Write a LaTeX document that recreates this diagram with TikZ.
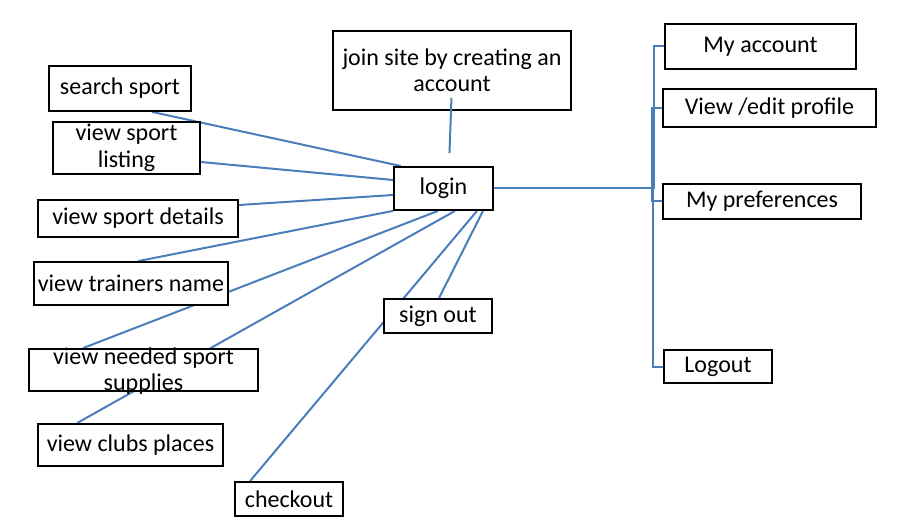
\documentclass[tikz,border=0pt]{standalone}
\usepackage{fontspec}
\setmainfont{Carlito}
\usetikzlibrary{backgrounds}
\definecolor{linkblue}{HTML}{4A7EBB}
\newcommand{\squeezed}[1]{\smash{\raisebox{-8.5pt}{\begin{tabular}{@{}c@{}}#1\end{tabular}}}}

\begin{document}
\begin{tikzpicture}[x=1pt,y=-1pt,box/.style={draw,line width=1.8pt,fill=white,align=center,inner sep=0pt},link/.style={draw=linkblue,line width=2pt},font=\fontsize{24}{26.5}\selectfont]
\useasboundingbox (0,0) rectangle (901,529);
\node[box,minimum width=142pt,minimum height=45pt] (search) at (120,88.5) {search sport};
\node[box,minimum width=147pt,minimum height=52pt] (listing) at (126.5,148) {view sport\\listing};
\node[box,minimum width=200pt,minimum height=37pt] (details) at (138,218.5) {view sport details};
\node[box,minimum width=194pt,minimum height=43pt] (trainers) at (131,283.5) {view trainers name};
\node[box,minimum width=229pt,minimum height=42pt] (supplies) at (143.5,370) {\squeezed{view needed sport\\supplies}};
\node[box,minimum width=185pt,minimum height=42pt] (clubs) at (130.5,445) {view clubs places};
\node[box,minimum width=108pt,minimum height=34pt] (checkout) at (289,499) {checkout};
\node[box,minimum width=108pt,minimum height=34pt] (signout) at (438,316) {sign out};
\node[box,minimum width=99pt,minimum height=43pt] (login) at (443.5,188.5) {login};
\node[box,minimum width=238pt,minimum height=79pt] (join) at (452,70.5) {join site by creating an\\account};
\node[box,minimum width=191pt,minimum height=45pt] (acct) at (760.5,46.5) {My account};
\node[box,minimum width=213pt,minimum height=38pt] (profile) at (769.5,108) {View /edit profile};
\node[box,minimum width=198pt,minimum height=35pt] (prefs) at (762,201.5) {My preferences};
\node[box,minimum width=108pt,minimum height=33pt] (logout) at (718,366.5) {Logout};
\coordinate (trunk) at (653,188.5);
% lines from the left boxes run behind the boxes
\begin{scope}[on background layer]
\draw[link] ([xshift=32pt]search.south) -- ([xshift=8pt]login.north west);
\draw[link] ([yshift=-14pt]listing.east) -- ([yshift=8.5pt]login.west);
\draw[link] ([yshift=13.5pt]details.east) -- ([yshift=-6.5pt]login.west);
\draw[link] ([xshift=7pt]trainers.north) -- (login.south west);
\draw[link] ([xshift=-60.5pt]supplies.north) -- ([xshift=-5.5pt]login.south);
\draw[link] ([xshift=-53.5pt]clubs.north) -- ([xshift=11.5pt]login.south);
\draw[link] ([xshift=-39pt]checkout.north) -- ([xshift=33.5pt]login.south);
\draw[link] ([xshift=1pt]signout.north) -- ([xshift=39.5pt]login.south);
\end{scope}
\draw[link,shorten <=-13pt,shorten >=13pt] ([xshift=-1pt]join.south) -- ([xshift=5.5pt]login.north);
% account menu
\draw[link] (login.east) -- ([xshift=1pt]trunk) |- (acct.west);
\draw[link] (login.east) -- ([xshift=-1pt]trunk) |- (profile.west);
\draw[link] (login.east) -- ([xshift=-1pt]trunk) |- (prefs.west);
\draw[link] (login.east) -- (trunk) |- (logout.west);
\end{tikzpicture}
\end{document}
